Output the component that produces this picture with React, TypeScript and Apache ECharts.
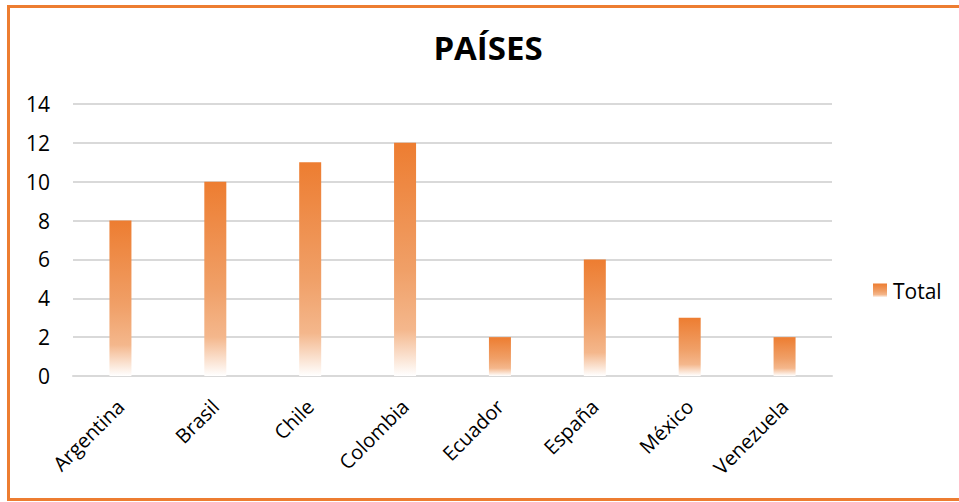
import React, { useEffect, useRef } from "react";
import * as echarts from "echarts";

const categories = ["Argentina", "Brasil", "Chile", "Colombia", "Ecuador", "España", "México", "Venezuela"];
const totals = [8, 10, 11, 12, 2, 6, 3, 2];
const seriesName = "Total";
const titleText = "PAÍSES";

export default function App() {
  const ref = useRef<HTMLDivElement>(null);
  useEffect(() => {
    if (!ref.current) return;
    const chart = echarts.init(ref.current, null, { renderer: "svg" });
    const grad = new echarts.graphic.LinearGradient(0, 0, 0, 1, [
      { offset: 0, color: "#ED7D31" },
      { offset: 0.55, color: "#F0A068" },
      { offset: 0.8, color: "#F4B78C" },
      { offset: 1, color: "#FFFFFF" },
    ]);
    chart.setOption({
      animation: false,
      backgroundColor: "#ffffff",
      textStyle: { fontFamily: "Open Sans" },
      title: {
        text: titleText,
        left: 483,
        top: 26,
        textAlign: "center",
        textStyle: { fontFamily: "Open Sans", fontWeight: "bold", fontSize: 33, color: "#000" },
      },
      grid: { left: 73, right: 127, top: 104, bottom: 126, containLabel: false },
      legend: {
        left: 868,
        top: 275,
        orient: "vertical",
        itemWidth: 14,
        itemHeight: 14,
        itemGap: 6,
        icon: "rect",
        textStyle: { fontSize: 21, color: "#000", fontFamily: "Open Sans", padding: [0, 0, 0, 1] },
        data: [{ name: seriesName, itemStyle: { color: grad } }],
      },
      xAxis: {
        type: "category",
        data: categories,
        axisLine: { show: true, lineStyle: { color: "#D9D9D9", width: 2 } },
        axisTick: { show: false },
        axisLabel: { rotate: 45, fontSize: 20, color: "#000", margin: 27, interval: 0 },
      },
      yAxis: {
        type: "value",
        min: 0,
        max: 14,
        interval: 2,
        axisLine: { show: false },
        axisTick: { show: false },
        axisLabel: { fontSize: 21, color: "#000", margin: 23 },
        splitLine: { lineStyle: { color: "#D9D9D9", width: 2 } },
      },
      series: [
        {
          name: seriesName,
          type: "bar",
          data: totals,
          barWidth: 22,
          itemStyle: { color: grad },
        },
      ],
      graphic: [
        {
          type: "rect",
          shape: { x: 8.5, y: 6.5, width: 960, height: 493 },
          style: { fill: "none", stroke: "#ED7D31", lineWidth: 3 },
          silent: true,
        },
      ],
    });
    return () => chart.dispose();
  }, []);
  return <div ref={ref} style={{ position: "fixed", left: 0, top: 0, width: 959, height: 502 }} />;
}
